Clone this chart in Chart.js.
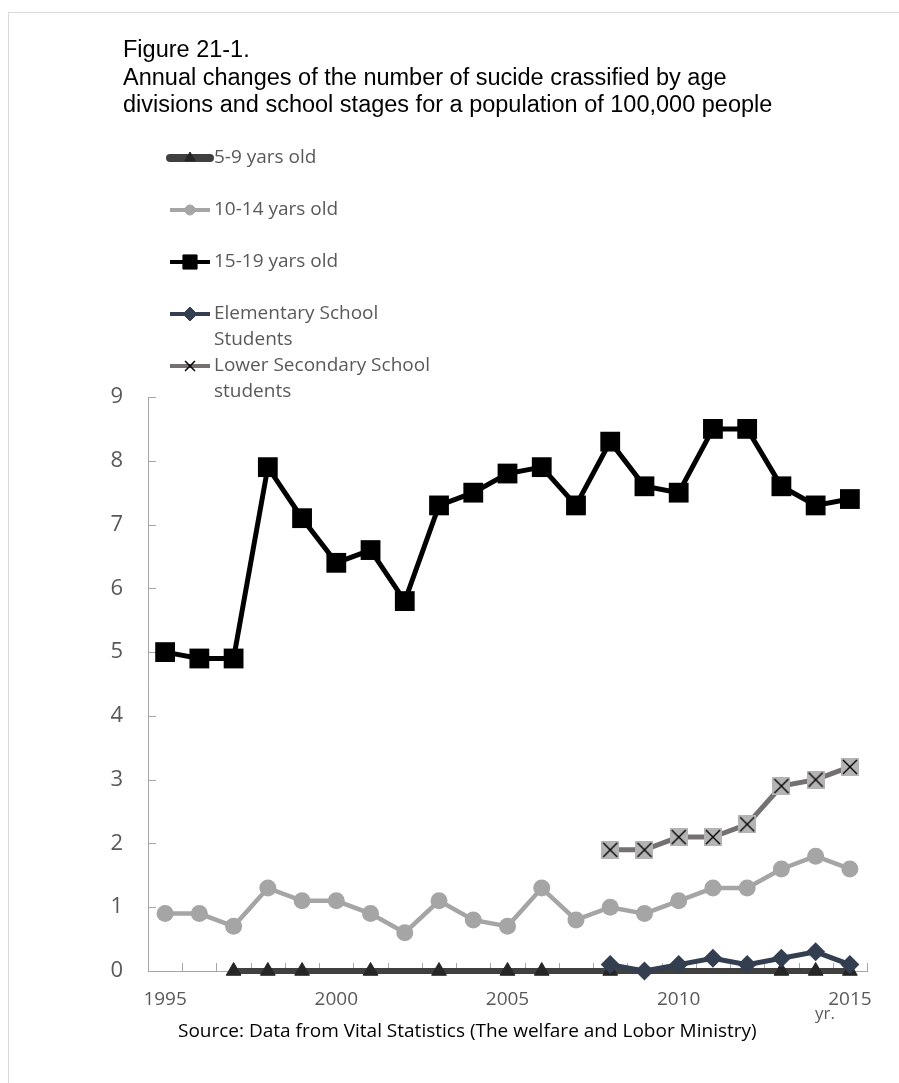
<!DOCTYPE html>
<html>
<head>
<meta charset="utf-8">
<title>Figure 21-1</title>
<script src="https://cdn.jsdelivr.net/npm/chart.js@4"></script>
<style>
  body { margin: 0; width: 899px; height: 1083px; overflow: hidden; background: #fff; position: relative; font-family: "Open Sans", sans-serif; }
  #frame { position: absolute; left: 8px; top: 12px; width: 1000px; height: 1200px; border: 1px solid #d9d9d9; }
  #chart { position: absolute; left: 0; top: 0; }
  #title { position: absolute; left: 123px; top: 36px; font-family: "Liberation Sans", Arial, sans-serif; font-size: 23.5px; line-height: 27.5px; color: #000; white-space: nowrap; }
  #yr { position: absolute; left: 815px; top: 1002px; font-size: 17px; line-height: 22px; color: #595959; }
  #source { position: absolute; left: 178px; top: 1017px; font-size: 19px; line-height: 26px; color: #000; white-space: nowrap; }
</style>
</head>
<body>
<div id="frame"></div>
<canvas id="chart" width="899" height="1083"></canvas>
<div id="title">Figure 21-1.<br>Annual changes of the number of sucide crassified by age<br>divisions and school stages for a population of 100,000 people</div>
<div id="yr">yr.</div>
<div id="source">Source: Data from Vital Statistics (The welfare and Lobor Ministry)</div>
<script>
// 年
const years = ["1995","1996","1997","1998","1999","2000","2001","2002","2003","2004","2005",
  "2006","2007","2008","2009","2010","2011","2012","2013","2014","2015"];

// 10万人あたりの自殺者数
const age5to9 = [null,null,0,0,0,null,0,null,0,null,0,0,null,0,null,null,null,null,0,0,0];
const age10to14 = [0.9,0.9,0.7,1.3,1.1,1.1,0.9,0.6,1.1,0.8,0.7,1.3,0.8,1.0,0.9,1.1,1.3,1.3,1.6,1.8,1.6];
const age15to19 = [5.0,4.9,4.9,7.9,7.1,6.4,6.6,5.8,7.3,7.5,7.8,7.9,7.3,8.3,7.6,7.5,8.5,8.5,7.6,7.3,7.4];
const elementary = [null,null,null,null,null,null,null,null,null,null,null,null,null,0.1,0.0,0.1,0.2,0.1,0.2,0.3,0.1];
const lowerSecondary = [null,null,null,null,null,null,null,null,null,null,null,null,null,1.9,1.9,2.1,2.1,2.3,2.9,3.0,3.2];

// 凡例の名前
const seriesNames = [
  ["5-9 yars old"],
  ["10-14 yars old"],
  ["15-19 yars old"],
  ["Elementary School", "Students"],
  ["Lower Secondary School", "students"]
];

// 目盛り
const yTicks = [0,1,2,3,4,5,6,7,8,9];

// グレーの四角に×のマーカー
function crossBox(size) {
  const c = document.createElement("canvas");
  c.width = size; c.height = size;
  const g = c.getContext("2d");
  g.fillStyle = "#b4b4b4";
  g.fillRect(0, 0, size, size);
  g.strokeStyle = "#000";
  g.lineWidth = 1.4;
  g.beginPath();
  g.moveTo(2, 2); g.lineTo(size - 2, size - 2);
  g.moveTo(size - 2, 2); g.lineTo(2, size - 2);
  g.stroke();
  return c;
}

// 内向きの目盛り線
const innerTicks = {
  id: "innerTicks",
  beforeDatasetsDraw(chart) {
    const { ctx, scales: { x, y } } = chart;
    ctx.save();
    ctx.strokeStyle = "#a6a6a6";
    ctx.lineWidth = 1;
    ctx.beginPath();
    yTicks.forEach((v) => {
      const py = Math.round(y.getPixelForValue(v)) + 0.5;
      ctx.moveTo(x.left, py);
      ctx.lineTo(x.left + 8, py);
    });
    const step = (x.right - x.left) / years.length;
    for (let i = 0; i <= years.length; i++) {
      const px = Math.round(x.left + i * step) + 0.5;
      ctx.moveTo(px, y.bottom);
      ctx.lineTo(px, y.bottom - 8);
    }
    ctx.stroke();
    ctx.restore();
  }
};

// 凡例（縦に並べる）
const sideLegend = {
  id: "sideLegend",
  afterDraw(chart) {
    const ctx = chart.ctx;
    const legendStyles = [
      { style: "triangle", r: 6, lw: 8, cap: "round" },
      { style: "circle", r: 5, lw: 4, cap: "butt" },
      { style: "rect", r: 10, lw: 4, cap: "butt" },
      { style: "rectRot", r: 7, lw: 4, cap: "butt" },
      { style: "crossRot", r: 7, lw: 4, cap: "butt" }
    ];
    chart.data.datasets.forEach((ds, i) => {
      const cy = 158 + i * 52;
      const st = legendStyles[i];
      ctx.save();
      ctx.strokeStyle = ds.borderColor;
      ctx.lineWidth = st.lw;
      ctx.lineCap = st.cap;
      ctx.beginPath();
      ctx.moveTo(170, cy);
      ctx.lineTo(210, cy);
      ctx.stroke();
      ctx.fillStyle = ds.pointBackgroundColor || ds.borderColor;
      ctx.strokeStyle = st.style === "crossRot" ? "#000" : (ds.pointBackgroundColor || ds.borderColor);
      ctx.lineWidth = st.style === "crossRot" ? 1.5 : 1;
      ctx.lineCap = "butt";
      Chart.helpers.drawPoint(ctx, { pointStyle: st.style, radius: st.r, rotation: 0, borderWidth: 1 }, 190, cy);
      ctx.fillStyle = "#595959";
      ctx.font = '19px "Open Sans", sans-serif';
      ctx.textAlign = "left";
      ctx.textBaseline = "middle";
      seriesNames[i].forEach((line, k) => {
        ctx.fillText(line, 214, cy + k * 26);
      });
      ctx.restore();
    });
  }
};

const ctx = document.getElementById("chart").getContext("2d");
const chart = new Chart(ctx, {
  type: "line",
  data: {
    labels: years,
    datasets: [
      {
        label: seriesNames[0].join(" "),
        data: age5to9,
        spanGaps: true,
        borderColor: "#404040",
        borderWidth: 6,
        pointStyle: "triangle",
        pointRadius: 8.5,
        pointBackgroundColor: "#262626",
        pointBorderColor: "#262626",
        pointBorderWidth: 1,
        order: 5
      },
      {
        label: seriesNames[1].join(" "),
        data: age10to14,
        borderColor: "#a5a5a5",
        borderWidth: 4.5,
        pointStyle: "circle",
        pointRadius: 8.5,
        pointBackgroundColor: "#a5a5a5",
        pointBorderWidth: 0,
        order: 4
      },
      {
        label: seriesNames[2].join(" "),
        data: age15to19,
        borderColor: "#000000",
        borderWidth: 5,
        pointStyle: "rect",
        pointRadius: 14,
        pointBackgroundColor: "#000000",
        pointBorderWidth: 0,
        order: 3
      },
      {
        label: seriesNames[3].join(" "),
        data: elementary,
        borderColor: "#333f50",
        borderWidth: 5,
        pointStyle: "rectRot",
        pointRadius: 9.5,
        pointBackgroundColor: "#333f50",
        pointBorderWidth: 0,
        order: 2
      },
      {
        label: seriesNames[4].join(" "),
        data: lowerSecondary,
        borderColor: "#767171",
        borderWidth: 5,
        pointStyle: crossBox(18),
        pointRadius: 9,
        pointBackgroundColor: "#b4b4b4",
        order: 1
      }
    ]
  },
  options: {
    responsive: false,
    animation: false,
    events: [],
    datasets: { line: { clip: false } },
    layout: { padding: { left: 0, top: 397, right: 32, bottom: 0 } },
    plugins: {
      legend: { display: false },
      title: { display: false },
      tooltip: { enabled: false }
    },
    scales: {
      x: {
        type: "category",
        offset: true,
        grid: { display: false, drawTicks: false },
        border: { display: true, color: "#a6a6a6", width: 1 },
        ticks: {
          autoSkip: false,
          maxRotation: 0,
          padding: 17,
          color: "#595959",
          font: { family: '"Open Sans", sans-serif', size: 19 },
          callback: function (value, index) {
            const y = years[index];
            return Number(y) % 5 === 0 ? y : "";
          }
        },
        afterFit: (scale) => { scale.height = 112; }
      },
      y: {
        min: 0,
        max: 9,
        grid: { display: false, drawTicks: false },
        border: { display: true, color: "#a6a6a6", width: 1 },
        ticks: {
          stepSize: 1,
          padding: 25,
          color: "#595959",
          font: { family: '"Open Sans", sans-serif', size: 22 }
        },
        afterFit: (scale) => { scale.width = 148; }
      }
    }
  },
  plugins: [innerTicks, sideLegend]
});
</script>
</body>
</html>
